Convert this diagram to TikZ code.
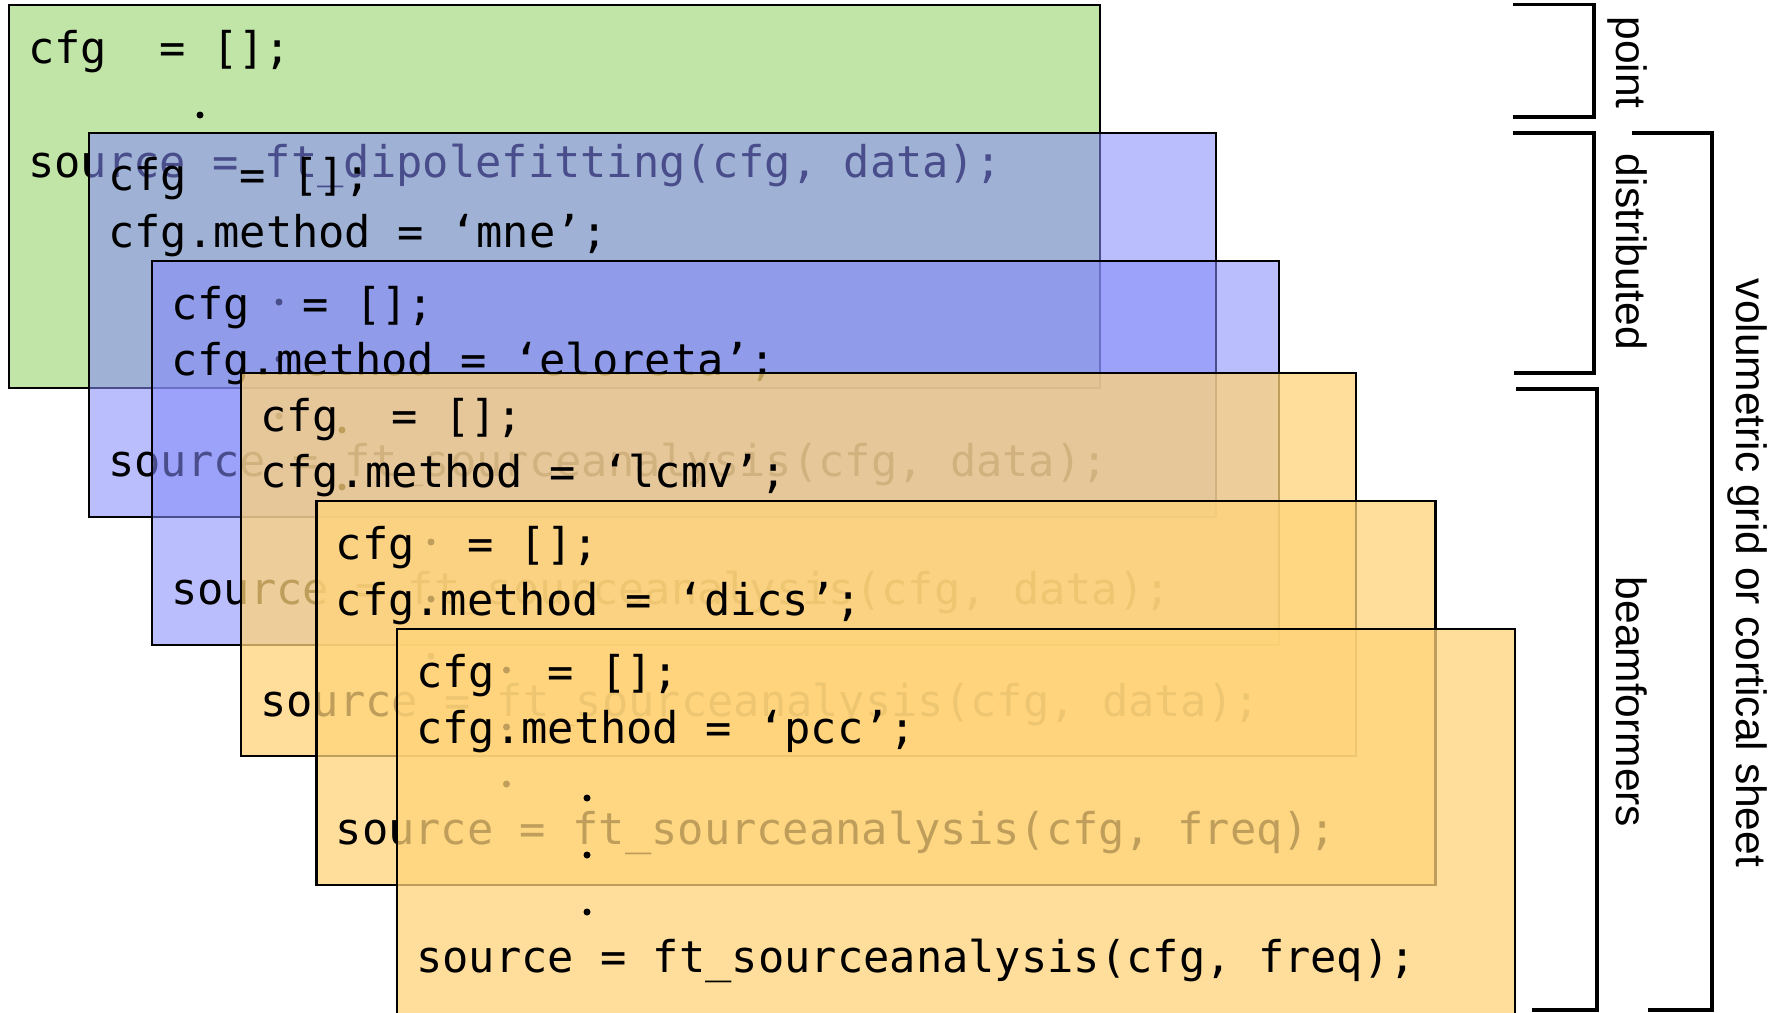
\documentclass[tikz,border=0pt]{standalone}
\usepackage{fontspec}
\setmainfont{Liberation Sans}
\newfontfamily\codefont{DejaVu Sans Mono}
\newfontfamily\labelfont{Liberation Sans}
\definecolor{pgreen}{RGB}{193,228,167}
\definecolor{lav}{RGB}{133,140,250}
\definecolor{orng}{RGB}{255,212,122}
\tikzset{
  codeline/.style={anchor=base west, inner sep=0pt, text=black,
    font=\codefont\fontsize{43.7}{52}\selectfont},
  greenpanel/.style={draw=black, line width=2.6pt, fill=pgreen},
  bluepanel/.style={draw=black, line width=2.6pt, fill=lav, fill opacity=0.556},
  orangepanel/.style={draw=black, line width=2.6pt, fill=orng, fill opacity=0.75},
  codedot/.style={circle, fill=black, draw=none, inner sep=0pt, minimum size=7pt},
  bracketline/.style={draw=black, line width=3.3pt},
  vlabel/.style={rotate=-90, anchor=base, inner sep=0pt,
    font=\labelfont\fontsize{42.5}{50}\selectfont},
}
\begin{document}
\frenchspacing
\begin{tikzpicture}[x=1pt,y=-1pt]
\useasboundingbox (0,0) rectangle (1779,1012);
\clip (0,0) rectangle (1779,1012);
\fill[white] (0,0) rectangle (1779,1012);

% panel 1: point (dipole fitting)
\begin{scope}[shift={(9,5)}]
\draw[greenpanel] (0,0) rectangle (1091,383);
\node[codeline] (p1a) at (19,58) {cfg~~= [];};
\node[codedot] (p1d) at (191,110) {};
\node[codeline] (p1c) at (19,172) {source = ft\_dipolefitting(cfg, data);};
\end{scope}

% panel 2: mne
\begin{scope}[shift={(89,133)}]
\draw[bluepanel] (0,0) rectangle (1127,384);
\node[codeline] (p2a) at (19,57) {cfg~~= [];};
\node[codeline] (p2b) at (19,114) {cfg.method = ‘mne’;};
\node[codedot] (p2d1) at (190,169) {};
\node[codedot] (p2d2) at (190,226) {};
\node[codedot] (p2d3) at (190,283) {};
\node[codeline] (p2c) at (19,343) {source = ft\_sourceanalysis(cfg, data);};
\end{scope}

% panel 3: eloreta
\begin{scope}[shift={(152,261)}]
\draw[bluepanel] (0,0) rectangle (1127,384);
\node[codeline] (p3a) at (19,58) {cfg~~= [];};
\node[codeline] (p3b) at (19,114) {cfg.method = ‘eloreta’;};
\node[codedot] (p3d1) at (190,169) {};
\node[codedot] (p3d2) at (190,226) {};
\node[codedot] (p3d3) at (190,283) {};
\node[codeline] (p3c) at (19,343) {source = ft\_sourceanalysis(cfg, data);};
\end{scope}

% panel 4: lcmv
\begin{scope}[shift={(241,373)}]
\draw[orangepanel] (0,0) rectangle (1115,383);
\node[codeline] (p4a) at (19,58) {cfg~~= [];};
\node[codeline] (p4b) at (19,114) {cfg.method = ‘lcmv’;};
\node[codedot] (p4d1) at (190,169) {};
\node[codedot] (p4d2) at (190,226) {};
\node[codedot] (p4d3) at (190,283) {};
\node[codeline] (p4c) at (19,343) {source = ft\_sourceanalysis(cfg, data);};
\end{scope}

% panel 5: dics
\begin{scope}[shift={(316.5,501)}]
\draw[orangepanel] (0,0) rectangle (1119,384);
\node[codeline] (p5a) at (19,58) {cfg~~= [];};
\node[codeline] (p5b) at (19,114) {cfg.method = ‘dics’;};
\node[codedot] (p5d1) at (190,169) {};
\node[codedot] (p5d2) at (190,226) {};
\node[codedot] (p5d3) at (190,283) {};
\node[codeline] (p5c) at (19,343) {source = ft\_sourceanalysis(cfg, freq);};
\end{scope}

% panel 6: pcc
\begin{scope}[shift={(397,629)}]
\draw[orangepanel] (0,0) rectangle (1118,420);
\node[codeline] (p6a) at (19,58) {cfg~~= [];};
\node[codeline] (p6b) at (19,114) {cfg.method = ‘pcc’;};
\node[codedot] (p6d1) at (190,169) {};
\node[codedot] (p6d2) at (190,226) {};
\node[codedot] (p6d3) at (190,283) {};
\node[codeline] (p6c) at (19,343) {source = ft\_sourceanalysis(cfg, freq);};
\end{scope}

% brackets
\draw[bracketline] (1513,4.7) -| (1594,117) -- (1513,117);
\draw[bracketline] (1513,133) -| (1594,373) -- (1514,373);
\draw[bracketline] (1516,389) -| (1597,1010) -- (1532,1010);
\draw[bracketline] (1632,133) -| (1712,1010) -- (1648,1010);

% labels
\node[vlabel] (lpoint) at (1616,62.5) {point};
\node[vlabel] (ldist) at (1616,252) {distributed};
\node[vlabel] (lbeam) at (1616,702) {beamformers};
\node[vlabel] (lvol) at (1736,573) {volumetric grid or cortical sheet};
\end{tikzpicture}
\end{document}
